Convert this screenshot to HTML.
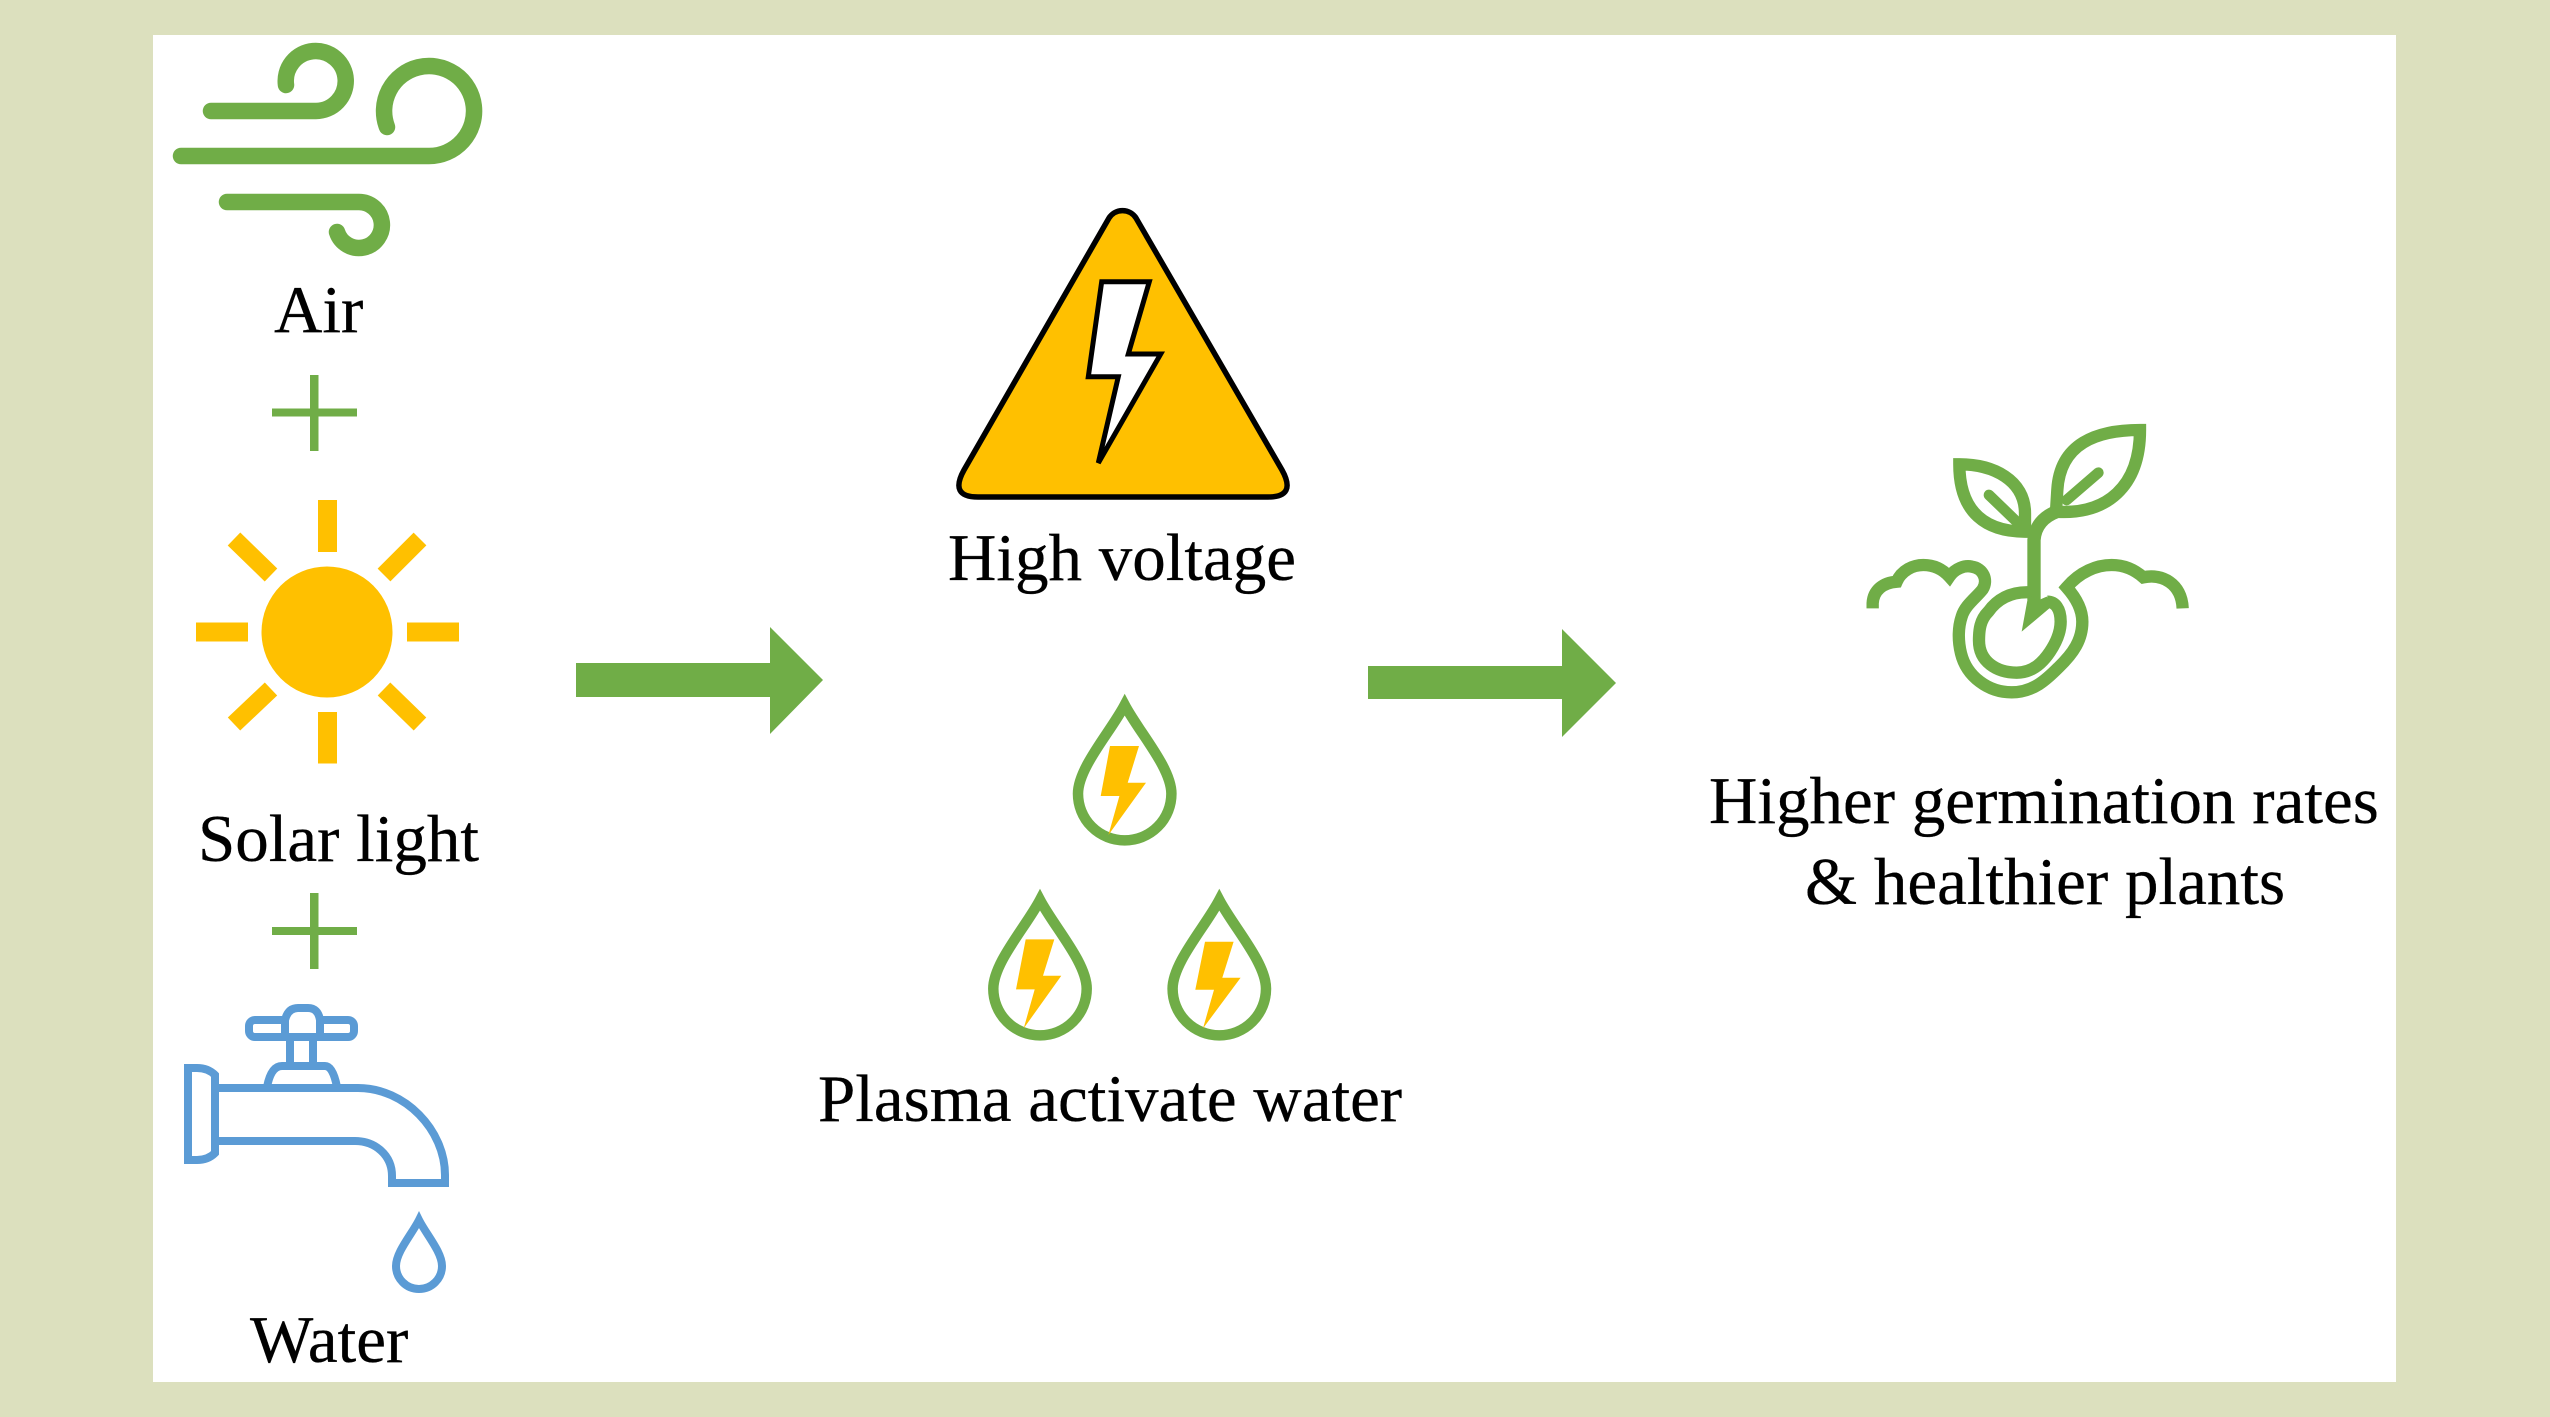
<!DOCTYPE html>
<html lang="en">
<head>
<meta charset="utf-8">
<title>Plasma activated water diagram</title>
<style>
html,body{margin:0;padding:0;background:#DCE0BE;width:2550px;height:1417px;overflow:hidden}
svg{display:block}
text{font-family:"Liberation Serif","Times New Roman",serif;font-size:67px;fill:#000;stroke:#000;stroke-width:.3}
</style>
</head>
<body>
<svg xmlns="http://www.w3.org/2000/svg" width="2550" height="1417" viewBox="0 0 2550 1417">
<rect width="2550" height="1417" fill="#DCE0BE"/>
<rect x="153" y="35" width="2243" height="1347" fill="#fff"/>

<!-- wind -->
<g fill="none" stroke="#70AD47" stroke-width="16.500" stroke-linecap="round">
<path d="M211 111H316A30 30 0 1 0 286 85"/>
<path d="M181 156H429A45 45 0 1 0 387 127"/>
<path d="M227 202H358A23 23 0 1 1 337 232"/>
</g>
<text x="274" y="332">Air</text>

<!-- plus signs -->
<g fill="#70AD47">
<rect x="272" y="408.500" width="85" height="8"/>
<rect x="310" y="375" width="8.500" height="76"/>
<rect x="272" y="927" width="85" height="8"/>
<rect x="310" y="893" width="8.500" height="76"/>
</g>

<!-- sun -->
<g fill="#FFC000">
<circle cx="327" cy="632" r="65.500"/>
<rect x="318" y="500" width="19" height="52"/>
<rect x="318" y="712" width="19" height="51.500"/>
<rect x="196" y="622.500" width="52" height="19"/>
<rect x="407" y="622.500" width="52" height="19"/>
</g>
<g stroke="#FFC000" stroke-width="18" fill="none">
<path d="M234 539L271 575"/>
<path d="M420 539L384 575"/>
<path d="M234 724L271 689"/>
<path d="M420 724L384 689"/>
</g>
<text x="198" y="861">Solar light</text>

<!-- tap -->
<g fill="none" stroke="#5B9BD5" stroke-width="8">
<path d="M215 1088H358C405 1088 445 1130 445 1175V1183H392V1176C392 1155 375 1141 355 1141H215"/>
<path d="M188 1068H197Q208 1068 215 1075V1153Q208 1160 197 1160H188Z"/>
<path d="M267 1087Q271 1066 282 1066H325Q333 1066 337 1087"/>
<path d="M290 1038V1064M313 1038V1064"/>
<rect x="249" y="1020" width="105" height="17" rx="6"/>
<path d="M285 1037V1020Q288 1008 298 1008H308Q318 1008 320 1020V1037Z" fill="#fff"/>
<path d="M419 1220C426 1234 442 1252 442 1266A23 23 0 0 1 396 1266C396 1252 412 1234 419 1220Z"/>
</g>
<text x="250" y="1362">Water</text>

<!-- arrows -->
<path d="M576 663H770V627L823 680L770 734V697H576Z" fill="#70AD47"/>
<path d="M1368 666H1562V629L1616 683L1562 737V699H1368Z" fill="#70AD47"/>

<!-- high voltage -->
<path d="M1109 218L964 470Q949 497 978 497H1268Q1297 497 1282 470L1136 218A16 16 0 0 0 1109 218Z" fill="#FFC000" stroke="#000" stroke-width="5.500" stroke-linejoin="round"/>
<path d="M1101.700 281.700H1149.300L1128.300 354H1160.700L1098.300 463L1118.300 376.700H1088.300Z" fill="#fff" stroke="#000" stroke-width="5"/>
<text x="948" y="580">High voltage</text>

<!-- plasma drops -->
<g transform="translate(1124.700 793.700)">
<path d="M0-88.700C14-62 46.700-26 46.700 0A46.700 46.700 0 0 1-46.700 0C-46.700-26-14-62 0-88.700Z" fill="none" stroke="#70AD47" stroke-width="10.500"/>
<path d="M-14.700-47.700H14.300L3-11H21.300L-16.300 41.300L-5.300 2.300H-24Z" fill="#FFC000"/>
</g>
<g transform="translate(1040 988.700)">
<path d="M0-88.700C14-62 46.700-26 46.700 0A46.700 46.700 0 0 1-46.700 0C-46.700-26-14-62 0-88.700Z" fill="none" stroke="#70AD47" stroke-width="10.500"/>
<path d="M-14.300-49.300H14.300L3-13H21.300L-16.300 39.700L-5.300 0.700H-24Z" fill="#FFC000"/>
</g>
<g transform="translate(1219.300 988.700)">
<path d="M0-88.700C14-62 46.700-26 46.700 0A46.700 46.700 0 0 1-46.700 0C-46.700-26-14-62 0-88.700Z" fill="none" stroke="#70AD47" stroke-width="10.500"/>
<path d="M-14.300-47H14.300L3-11H21.300L-16.300 39.700L-5.300 1H-24Z" fill="#FFC000"/>
</g>
<text x="818" y="1121">Plasma activate water</text>

<!-- plant -->
<g transform="translate(1840 400) scale(.33333)" fill="none" stroke="#70AD47" stroke-width="37" stroke-linejoin="miter">
<path d="M900 90C770 90 660 130 652 270L648 335C800 345 900 260 900 90Z"/>
<path d="M358 193C460 193 555 240 555 340V395C440 395 358 340 358 193Z"/>
<path d="M775 218L680 300M447 285L530 365" stroke-width="32" stroke-linecap="round"/>
<path d="M582 600V420C585 380 610 350 650 335" stroke-width="40"/>
<path d="M570 577C510 574 470 600 445 635C420 660 417 690 417 722C417 785 470 818 530 818C580 818 610 785 630 755C650 725 662 695 662 665C662 625 645 605 622 605"/>
<path d="M565 585L545 695L640 615L620 590L597 600Z" fill="#70AD47" stroke="none"/>
<path d="M98 625V610C100 570 130 548 170 545C185 510 220 495 250 495C285 495 310 510 328 530C345 505 375 495 395 500C430 505 445 540 428 568C410 592 375 615 365 650C355 680 353 720 363 760C380 830 445 877 515 877C580 877 620 838 655 803C700 760 727 720 727 665C727 625 705 590 680 562C720 515 770 495 815 495C855 495 885 510 910 532C965 520 1025 550 1028 625"/>
</g>

<text x="1709" y="823">Higher germination rates</text>
<text x="1805" y="904">&amp; healthier plants</text>
</svg>
</body>
</html>
